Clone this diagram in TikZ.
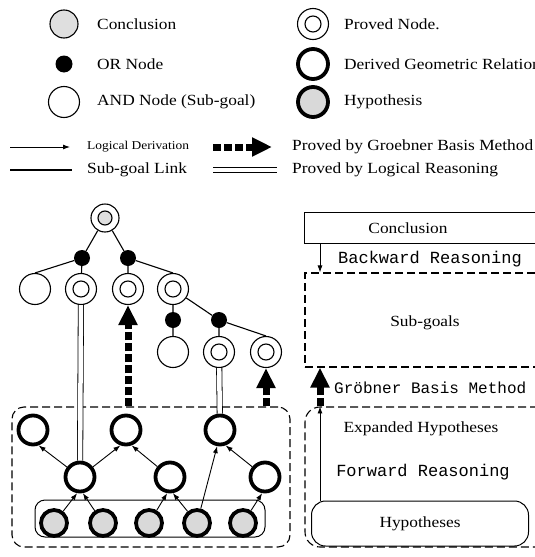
\documentclass[tikz,border=0pt]{standalone}
\usepackage{fontspec}
\setmainfont{Liberation Serif}[FakeStretch=1.12]
\setmonofont{Liberation Mono}
\usetikzlibrary{arrows.meta,calc}

\tikzset{
  andnode/.style={circle, draw, line width=1.1pt, minimum size=31pt, inner sep=0pt},
  ornode/.style={circle, fill=black, minimum size=16pt, inner sep=0pt},
  provednode/.style={andnode, path picture={\draw[line width=1.1pt] (path picture bounding box.center) circle (8pt);}},
  concnode/.style={andnode, fill=gray!25},
  provedconc/.style={andnode, minimum size=28pt, path picture={\draw[line width=1.1pt, fill=gray!25] (path picture bounding box.center) circle (7pt);}},
  derivnode/.style={circle, draw, line width=3.8pt, minimum size=29pt, inner sep=0pt},
  hyponode/.style={derivnode, fill=gray!30, minimum size=26pt},
  sublink/.style={line width=1.1pt},
  derivation/.style={line width=0.9pt, -{Latex[length=7pt,width=5pt]}},
  logicproof/.style={line width=0.8pt, double, double distance=4.5pt},
  groebner/.style={line width=7pt, dash pattern=on 8pt off 3pt, -{Triangle[length=20pt,width=18pt]}},
  dashbox/.style={draw, line width=1.1pt, dash pattern=on 8pt off 4pt, inner sep=0pt},
  lbl/.style={anchor=west, inner sep=0pt},
  mono/.style={font=\ttfamily\fontsize{17}{20}\selectfont},
}

\begin{document}
\begin{tikzpicture}[x=1pt, y=-1pt, font=\fontsize{15.5}{18}\selectfont]
\fill[white] (0,0) rectangle (535,557);
\useasboundingbox (0,0) rectangle (535,557);

% legend
\node[concnode, minimum size=28pt] (lc) at (64,24) {};
\node[ornode, minimum size=17pt] (lo) at (64,64) {};
\node[andnode] (la) at (64,102) {};
\node[provednode] (lp) at (313,24) {};
\node[derivnode, minimum size=30pt] (ld) at (313,64) {};
\node[hyponode, minimum size=30pt] (lh) at (313,102) {};
\node[lbl] (tc) at (97,24) {Conclusion};
\node[lbl] (to) at (97,64) {OR Node};
\node[lbl] (ta) at (97,102) {AND Node (Sub-goal)};
\node[lbl] (tp) at (344,24) {Proved Node.};
\node[lbl] (td) at (344,64) {Derived Geometric Relation};
\node[lbl] (th) at (344,102) {Hypothesis};

\coordinate (ld1) at (10,147); \coordinate (ld2) at (70,147);
\draw[derivation] (ld1) -- (ld2);
\node[lbl, font=\fontsize{12}{14}\selectfont] (tld) at (87,147) {Logical Derivation};
\coordinate (lg1) at (213,147); \coordinate (lg2) at (272,147);
\draw[groebner] (lg1) -- (lg2);
\node[lbl] (tlg) at (292,147) {Proved by Groebner Basis Method};
\coordinate (ls1) at (10,170); \coordinate (ls2) at (72,170);
\draw[sublink] (ls1) -- (ls2);
\node[lbl] (tls) at (87,170) {Sub-goal Link};
\coordinate (lr1) at (213,170); \coordinate (lr2) at (277,170);
\draw[logicproof] (lr1) -- (lr2);
\node[lbl] (tlr) at (292,170) {Proved by Logical Reasoning};

% proof tree
\node[dashbox, rounded corners=12pt, minimum width=278pt, minimum height=140pt] (lbox) at (151,477) {};
\node[draw, line width=1pt, rounded corners=10pt, minimum width=230pt, minimum height=37pt] (hbox) at (150,518.5) {};

\node[provedconc] (c0) at (105,218) {};
\node[ornode] (o1) at (82,258) {};
\node[ornode] (o2) at (128,258) {};
\node[andnode] (a1) at (35,289) {};
\node[provednode] (p1) at (81,289) {};
\node[provednode] (p2) at (128,289) {};
\node[provednode] (p3) at (173,289) {};
\node[ornode] (o3) at (173,320) {};
\node[ornode] (o4) at (219,320) {};
\node[andnode] (a2) at (173,352) {};
\node[provednode] (p4) at (219,352) {};
\node[provednode] (p5) at (266,352) {};

\node[derivnode] (d1) at (33,430) {};
\node[derivnode] (d2) at (126,430) {};
\node[derivnode] (d3) at (220,430) {};
\node[derivnode] (m1) at (80,477) {};
\node[derivnode] (m2) at (170,477) {};
\node[derivnode] (m3) at (265,477) {};
\foreach \x [count=\i] in {54,103,149,197,243}
  \node[hyponode] (h\i) at (\x,523) {};

\draw[sublink] (c0) -- (o1) (c0) -- (o2);
\draw[sublink] (o1) -- (a1.north) (o1) -- (p1) (o2) -- (p2) (o2) -- (p3.north);
\draw[sublink] (p3) -- (o3) (p3) -- (o4) (o3) -- (a2) (o4) -- (p4) (o4) -- (p5.north);

\draw[derivation] (m1) -- (d1.-70);
\draw[derivation] (m1) -- (d2.-110);
\draw[derivation] (m2) -- (d2.-70);
\draw[derivation] (m3) -- (d3.-70);
\draw[derivation] (h4) -- (d3.-100);
\draw[derivation] (h1) -- (m1.-100);
\draw[derivation] (h2) -- (m1.-80);
\draw[derivation] (h3) -- (m2.-100);
\draw[derivation] (h4) -- (m2.-80);
\draw[derivation] (h5) -- (m3.-100);

\draw[logicproof] (p1) -- (m1);
\draw[logicproof] (p4) -- (d3);
\draw[groebner] (lbox.north -| p2) -- (p2);
\draw[groebner] (lbox.north -| p5) -- (p5);

% reasoning scheme
\node[draw, line width=1pt, minimum width=260pt, minimum height=31pt] (cbox) at (434,227.5) {};
\node (tcb) at (408,228) {Conclusion};
\node[dashbox, minimum width=260pt, minimum height=94pt] (sbox) at (435,320) {};
\node[dashbox, rounded corners=15pt, minimum width=260pt, minimum height=140pt] (rbox) at (435,477) {};
\node[draw, line width=1pt, rounded corners=14pt, minimum width=217pt, minimum height=45pt] (rhyp) at (420,523.5) {Hypotheses};
\node[mono] (tbr) at (430,259) {Backward Reasoning};
\node (tsg) at (425,323) {Sub-goals};
\node[mono, lbl, font=\ttfamily\fontsize{16}{19}\selectfont] (tgb) at (334,388) {Gröbner Basis Method};
\node (teh) at (421,429) {Expanded Hypotheses};
\node[mono] (tfr) at (423,472) {Forward Reasoning};

\coordinate (rx) at (320,0);
\draw[derivation] (cbox.south -| rx) -- (sbox.north -| rx);
\draw[derivation] (rhyp.north -| rx) -- (rbox.north -| rx);
\draw[groebner] (rbox.north -| rx) -- (sbox.south -| rx);
\end{tikzpicture}
\end{document}
